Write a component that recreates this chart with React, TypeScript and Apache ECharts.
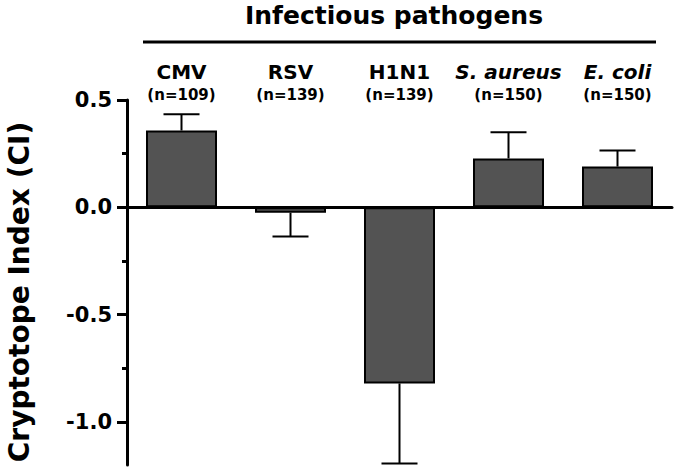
import React, { useEffect, useRef } from "react";
import * as echarts from "echarts";

const categories = ["CMV", "RSV", "H1N1", "S. aureus", "E. coli"];
const sampleSizes = [109, 139, 139, 150, 150];
const italicNames = [false, false, false, true, true];
const meanCI = [0.358, -0.025, -0.82, 0.228, 0.19];
const errCI = [0.076, 0.111, 0.373, 0.122, 0.075];
const majorTicks = [-1.0, -0.5, 0, 0.5];
const minorTicks = [-0.75, -0.25, 0.25];
const yMin = -1.2;
const yMax = 0.5;
const titleText = "Infectious pathogens";
const yAxisTitle = "Cryptotope Index (CI)";

const FONT = "DejaVu Sans";

export default function App() {
  const ref = useRef<HTMLDivElement>(null);
  useEffect(() => {
    if (!ref.current) return;
    const chart = echarts.init(ref.current, null, { renderer: "svg" });
    const errData = meanCI.map((v, i) => [i, v, errCI[i]]);
    chart.setOption({
      animation: false,
      backgroundColor: "#ffffff",
      grid: { left: 127, right: 3, top: 100, bottom: 4, containLabel: false },
      xAxis: [
        {
          type: "category",
          data: categories,
          position: "bottom",
          axisLine: { onZero: true, lineStyle: { color: "#000", width: 3 } },
          axisTick: { show: false },
          axisLabel: { show: false },
          splitLine: { show: false },
        },
        {
          type: "category",
          data: categories,
          position: "top",
          axisLine: { show: false },
          axisTick: { show: false },
          splitLine: { show: false },
          axisLabel: {
            show: true,
            interval: 0,
            margin: -6,
            formatter: (val: string, idx: number) =>
              `{${italicNames[idx] ? "it" : "nm"}|${val}}\n{n|(n=${sampleSizes[idx]})}`,
            rich: {
              nm: { fontFamily: FONT, fontWeight: "bold", fontSize: 20, color: "#000", lineHeight: 24 },
              it: { fontFamily: FONT, fontWeight: "bold", fontStyle: "italic", fontSize: 20, color: "#000", lineHeight: 24 },
              n: { fontFamily: FONT, fontWeight: "bold", fontSize: 15, color: "#000", lineHeight: 22 },
            },
          },
        },
      ],
      yAxis: [
        {
          type: "value",
          min: yMin,
          max: yMax,
          position: "left",
          axisLine: { show: true, lineStyle: { color: "#000", width: 3 } },
          axisTick: { show: true, customValues: majorTicks, length: 10, lineStyle: { color: "#000", width: 3 } },
          axisLabel: {
            show: true,
            customValues: majorTicks,
            margin: 15,
            formatter: (v: number) => v.toFixed(1),
            fontFamily: FONT,
            fontWeight: "bold",
            fontSize: 21,
            color: "#000",
          },
          splitLine: { show: false },
        },
        {
          type: "value",
          min: yMin,
          max: yMax,
          position: "left",
          offset: 0,
          axisLine: { show: false },
          axisTick: { show: true, customValues: minorTicks, length: 5, lineStyle: { color: "#000", width: 3 } },
          axisLabel: { show: false },
          splitLine: { show: false },
        },
      ],
      graphic: [
        {
          type: "text",
          x: 394,
          y: 15.5,
          style: {
            text: titleText,
            font: `bold 25px "${FONT}"`,
            fill: "#000",
            textAlign: "center",
            textVerticalAlign: "middle",
          },
        },
        {
          type: "line",
          shape: { x1: 143, y1: 42, x2: 656, y2: 42 },
          style: { stroke: "#000", lineWidth: 3 },
        },
        {
          type: "text",
          x: 19,
          y: 292,
          rotation: Math.PI / 2,
          style: {
            text: yAxisTitle,
            font: `bold 28px "${FONT}"`,
            fill: "#000",
            textAlign: "center",
            textVerticalAlign: "middle",
          },
        },
      ],
      series: [
        {
          type: "bar",
          xAxisIndex: 0,
          yAxisIndex: 0,
          data: meanCI,
          barWidth: 71,
          itemStyle: { color: "#535353", borderColor: "#000", borderWidth: 2 },
          z: 2,
        },
        {
          type: "custom",
          xAxisIndex: 0,
          yAxisIndex: 0,
          data: errData,
          z: 3,
          renderItem: (params: any, api: any) => {
            const i = api.value(0);
            const v = api.value(1);
            const e = api.value(2);
            const sign = v >= 0 ? 1 : -1;
            const start = api.coord([i, v]);
            const end = api.coord([i, v + sign * e]);
            const half = 18;
            const style = { stroke: "#000", lineWidth: 2 };
            return {
              type: "group",
              children: [
                { type: "line", shape: { x1: start[0], y1: start[1], x2: end[0], y2: end[1] }, style },
                { type: "line", shape: { x1: end[0] - half, y1: end[1], x2: end[0] + half, y2: end[1] }, style },
              ],
            };
          },
        },
      ],
    });
    return () => chart.dispose();
  }, []);
  return (
    <div
      ref={ref}
      style={{ position: "fixed", left: 0, top: 0, width: 675, height: 469, background: "#fff" }}
    />
  );
}
